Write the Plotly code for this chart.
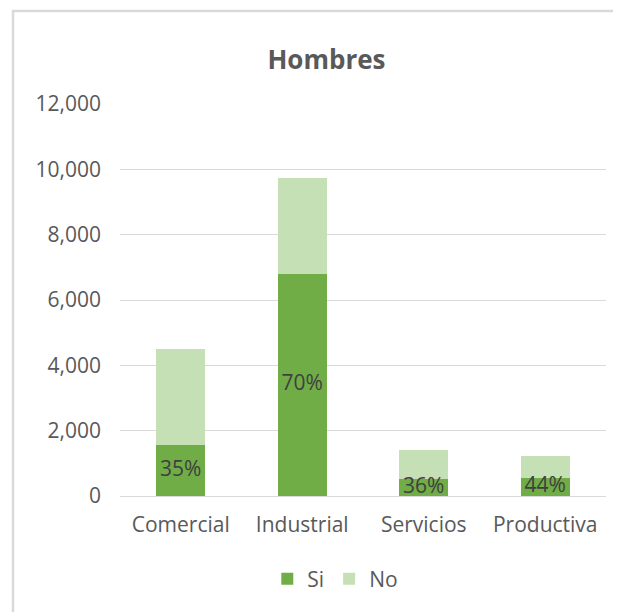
import plotly.graph_objects as go

categories = ["Comercial", "Industrial", "Servicios", "Productiva"]
si_values = [1570, 6800, 515, 540]
no_values = [2920, 2940, 895, 680]
pct_labels = ["35%", "70%", "36%", "44%"]
y_ticks = [0, 2000, 4000, 6000, 8000, 10000, 12000]

FONT = "Open Sans, Liberation Sans, sans-serif"
GRAY = "#595959"

fig = go.Figure()
fig.add_trace(go.Bar(x=categories, y=si_values, name="Si",
                     marker=dict(color="#70AD47", line=dict(width=0))))
fig.add_trace(go.Bar(x=categories, y=no_values, name="No",
                     marker=dict(color="#C5E0B4", line=dict(width=0))))
fig.add_trace(go.Scatter(x=categories, y=[v / 2 for v in si_values], mode="text",
                         text=pct_labels, textposition="middle center",
                         textfont=dict(family=FONT, size=21, color="#404040"),
                         showlegend=False, hoverinfo="skip", cliponaxis=False))

fig.update_layout(
    width=613, height=604,
    barmode="stack", bargap=0.6,
    paper_bgcolor="white", plot_bgcolor="white",
    margin=dict(l=112, r=15, t=96, b=116),
    title=dict(text="<b>Hombres</b>", x=0.5196, xanchor="center", y=0.914, yanchor="middle",
               font=dict(family=FONT, size=26, color=GRAY)),
    font=dict(family=FONT, color=GRAY),
    yaxis=dict(range=[0, 12000], tickvals=y_ticks, tickformat=",", showgrid=True,
               gridcolor="#D9D9D9", gridwidth=1, zeroline=True, zerolinecolor="#D9D9D9",
               zerolinewidth=1, showline=False, ticks="", tickfont=dict(size=21, color=GRAY),
               ticklabelstandoff=18),
    xaxis=dict(showline=False, ticks="", tickfont=dict(size=21, color=GRAY),
               ticklabelstandoff=14),
    legend=dict(orientation="h", x=0.443, xanchor="center", y=-0.212, yanchor="middle",
                font=dict(size=21, color=GRAY), itemwidth=30, traceorder="normal"),
    shapes=[dict(type="rect", xref="paper", yref="paper",
                 x0=(5 - 112) / 486, x1=(640 - 112) / 486,
                 y0=(488 - 640) / 392, y1=(488 - 3) / 392,
                 line=dict(color="#D9D9D9", width=2.5), fillcolor="rgba(0,0,0,0)", layer="below")],
)

fig.write_html("out.html")
